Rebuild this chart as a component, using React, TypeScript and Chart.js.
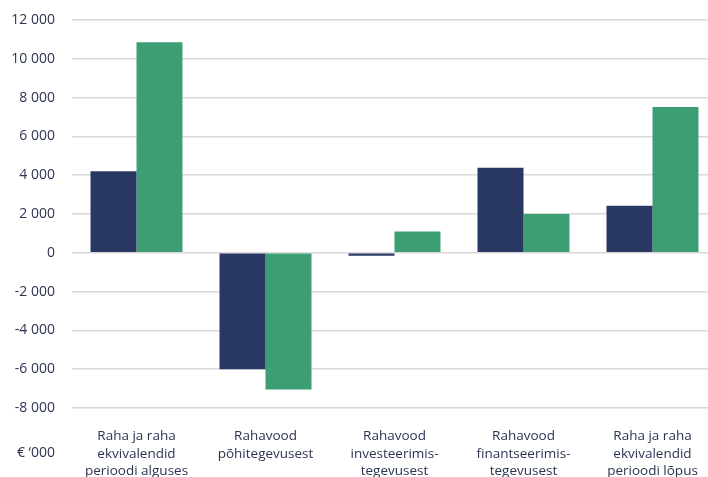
import React, { useEffect, useRef } from "react";
import { Chart, registerables } from "chart.js";

Chart.register(...registerables);

const categories: string[][] = [
  ["Raha ja raha", "ekvivalendid", "perioodi alguses"],
  ["Rahavood", "põhitegevusest"],
  ["Rahavood", "investeerimis-", "tegevusest"],
  ["Rahavood", "finantseerimis-", "tegevusest"],
  ["Raha ja raha", "ekvivalendid", "perioodi lõpus"],
];
const seriesA: number[] = [4200, -6000, -150, 4380, 2420];
const seriesB: number[] = [10850, -7050, 1100, 2000, 7510];
const yMin = -8000;
const yMax = 12000;
const yStep = 2000;
const unitLabel = "€ ‘000";

const textColor = "#2b3452";
const fontFamily = "'Open Sans', Lato, sans-serif";

function fmt(v: number): string {
  const s = Math.abs(v).toString().replace(/\B(?=(\d{3})+(?!\d))/g, " ");
  return (v < 0 ? "-" : "") + s;
}

export default function App() {
  const ref = useRef<HTMLCanvasElement | null>(null);
  useEffect(() => {
    if (!ref.current) return;
    const unitPlugin = {
      id: "unitLabel",
      afterDraw(chart: any) {
        const ctx = chart.ctx;
        ctx.save();
        ctx.font = `500 14px ${fontFamily}`;
        ctx.fillStyle = textColor;
        ctx.textAlign = "right";
        ctx.textBaseline = "middle";
        ctx.fillText(unitLabel, 55, 453);
        ctx.restore();
      },
    };
    const chart = new Chart(ref.current, {
      type: "bar",
      data: {
        labels: categories,
        datasets: [
          {
            data: seriesA,
            backgroundColor: "#283862",
            borderWidth: 0,
          },
          {
            data: seriesB,
            backgroundColor: "#3d9e74",
            borderWidth: 0,
          },
        ],
      },
      options: {
        animation: false,
        responsive: false,
        maintainAspectRatio: false,
        layout: { padding: { top: 20, right: 3, left: 0, bottom: 0 } },
        plugins: {
          legend: { display: false },
          tooltip: { enabled: false },
        },
        datasets: {
          bar: { categoryPercentage: 0.713, barPercentage: 1 },
        },
        scales: {
          x: {
            grid: { display: false, drawTicks: false },
            border: { display: false },
            ticks: {
              color: textColor,
              font: { family: fontFamily, size: 13.5, lineHeight: 1.28 },
              padding: 20,
              maxRotation: 0,
              autoSkip: false,
            },
            afterFit(scale: any) {
              scale.height = 69;
            },
          },
          y: {
            min: yMin,
            max: yMax,
            grid: {
              color: "#d9d9d9",
              lineWidth: 1.5,
              drawTicks: false,
            },
            border: { display: false },
            ticks: {
              stepSize: yStep,
              color: textColor,
              font: { family: fontFamily, size: 14 },
              padding: 17,
              callback: (v: any) => fmt(Number(v)),
            },
            afterFit(scale: any) {
              scale.width = 72;
              scale.paddingTop = 0;
            },
          },
        },
      },
      plugins: [unitPlugin],
    });
    return () => chart.destroy();
  }, []);
  return (
    <div
      style={{
        position: "fixed",
        left: 0,
        top: 0,
        width: 708,
        height: 477,
        overflow: "hidden",
        background: "#fff",
      }}
    >
      <canvas ref={ref} width={720} height={477} style={{ display: "block" }} />
    </div>
  );
}
